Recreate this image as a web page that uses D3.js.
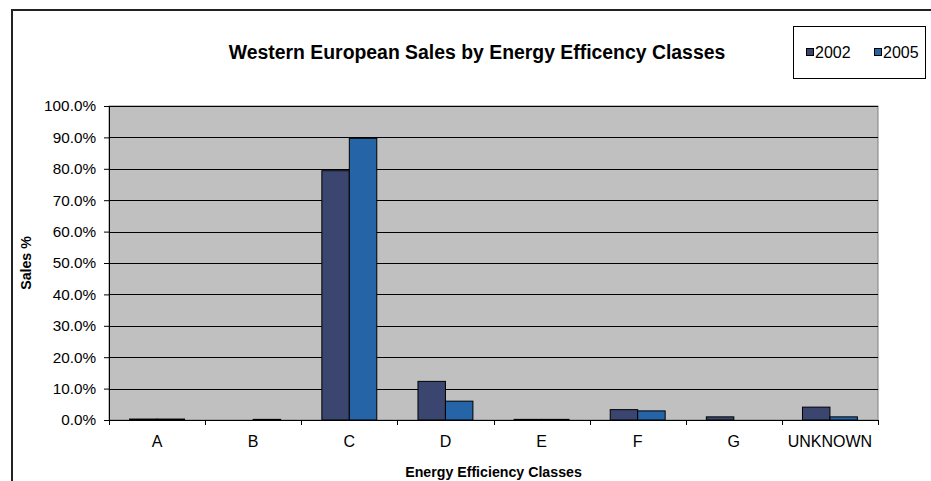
<!DOCTYPE html>
<html>
<head>
<meta charset="utf-8">
<script src="https://cdn.jsdelivr.net/npm/d3@7/dist/d3.min.js"></script>
<style>
  body { margin: 0; background: #fff; }
  text { font-family: "Liberation Sans", Arial, sans-serif; }
</style>
</head>
<body>
<div class="canvas"></div>
<script>
// data
const categories = ['A', 'B', 'C', 'D', 'E', 'F', 'G', 'UNKNOWN'];
const series = ['2002', '2005'];
const sales2002 = [0.3, 0, 79.4, 12.3, 0.2, 3.3, 1.0, 4.1];
const sales2005 = [0.3, 0.2, 89.7, 6.0, 0.2, 2.9, 0, 1.0];
const yTicks = [0, 10, 20, 30, 40, 50, 60, 70, 80, 90, 100];
const colors = ['#3a4570', '#2564a6'];

const svg = d3.select('.canvas').append('svg')
    .attr('width', 931)
    .attr('height', 481);

// outer chart frame (only top and left visible)
svg.append('path')
    .attr('d', 'M12,481 V10 H931')
    .attr('fill', 'none')
    .attr('stroke', '#222')
    .attr('stroke-width', 2);

const plot = { left: 109, right: 878, top: 106, bottom: 420 };

const x = d3.scaleBand()
    .domain(categories)
    .range([plot.left, plot.right])
    .paddingInner(0)
    .paddingOuter(0);

const y = d3.scaleLinear()
    .domain([0, 100])
    .range([plot.bottom, plot.top]);

// plot area
svg.append('rect')
    .attr('x', plot.left)
    .attr('y', plot.top)
    .attr('width', plot.right - plot.left)
    .attr('height', plot.bottom - plot.top)
    .attr('fill', '#c0c0c0')
    .attr('stroke', '#808080')
    .attr('stroke-width', 1);

// gridlines
svg.append('g')
    .selectAll('line')
    .data(yTicks.slice(1))
    .join('line')
    .attr('x1', plot.left)
    .attr('x2', plot.right)
    .attr('y1', d => Math.round(y(d)) + 0.5)
    .attr('y2', d => Math.round(y(d)) + 0.5)
    .attr('stroke', '#000');

// bars
const inner = d3.scaleBand()
    .domain(series)
    .range([0, x.bandwidth()])
    .paddingInner(0)
    .paddingOuter(0.75);

const rows = categories.map((c, i) => ({ cat: c, vals: [sales2002[i], sales2005[i]] }));

const groups = svg.append('g')
    .selectAll('g')
    .data(rows)
    .join('g')
    .attr('transform', d => `translate(${x(d.cat)},0)`);

groups.selectAll('rect')
    .data(d => d.vals.map((v, j) => ({ key: series[j], v: v, j: j })))
    .join('rect')
    .filter(d => d.v > 0)
    .attr('x', d => inner(d.key))
    .attr('y', d => y(d.v))
    .attr('width', inner.bandwidth())
    .attr('height', d => y(0) - y(d.v))
    .attr('fill', d => colors[d.j])
    .attr('stroke', '#000')
    .attr('stroke-width', 1);

// y axis
const yAxis = svg.append('g')
    .attr('transform', `translate(${plot.left},0)`)
    .call(d3.axisLeft(y).tickValues(yTicks).tickSize(5).tickPadding(8)
        .tickFormat(d => d.toFixed(1) + '%'));
yAxis.select('.domain').attr('stroke', '#000');
yAxis.selectAll('text').attr('font-size', 15.3).attr('fill', '#000')
    .style('font-family', '"Liberation Sans", Arial, sans-serif');

// x axis
const xAxis = svg.append('g')
    .attr('transform', `translate(0,${plot.bottom})`)
    .call(d3.axisBottom(x).tickSize(0).tickPadding(16));
xAxis.select('.domain').attr('stroke', '#000');
xAxis.selectAll('text').attr('font-size', 16).attr('fill', '#000')
    .style('font-family', '"Liberation Sans", Arial, sans-serif');

// category separator ticks
svg.append('g')
    .selectAll('line')
    .data(categories.map(c => x(c)).concat([plot.right]))
    .join('line')
    .attr('x1', d => Math.round(d) + 0.5)
    .attr('x2', d => Math.round(d) + 0.5)
    .attr('y1', plot.bottom)
    .attr('y2', plot.bottom + 5)
    .attr('stroke', '#000');

// titles
svg.append('text')
    .attr('x', 477)
    .attr('y', 59)
    .attr('text-anchor', 'middle')
    .attr('font-size', 19.4)
    .attr('font-weight', 'bold')
    .text('Western European Sales by Energy Efficency Classes');

svg.append('text')
    .attr('x', (plot.left + plot.right) / 2)
    .attr('y', 477)
    .attr('text-anchor', 'middle')
    .attr('font-size', 14.2)
    .attr('font-weight', 'bold')
    .text('Energy Efficiency Classes');

svg.append('text')
    .attr('transform', `translate(31,${(plot.top + plot.bottom) / 2}) rotate(-90)`)
    .attr('text-anchor', 'middle')
    .attr('font-size', 14.2)
    .attr('font-weight', 'bold')
    .text('Sales %');

// legend
const legend = svg.append('g');
legend.append('rect')
    .attr('x', 793.5)
    .attr('y', 26.5)
    .attr('width', 132)
    .attr('height', 52)
    .attr('fill', '#fff')
    .attr('stroke', '#000');

const legendX = [806, 874];
series.forEach((s, i) => {
    legend.append('rect')
        .attr('x', legendX[i] + 0.5)
        .attr('y', 48.5)
        .attr('width', 7)
        .attr('height', 7)
        .attr('fill', colors[i])
        .attr('stroke', '#000');
    legend.append('text')
        .attr('x', legendX[i] + 9)
        .attr('y', 57.5)
        .attr('font-size', 16)
        .text(s);
});
</script>
</body>
</html>
